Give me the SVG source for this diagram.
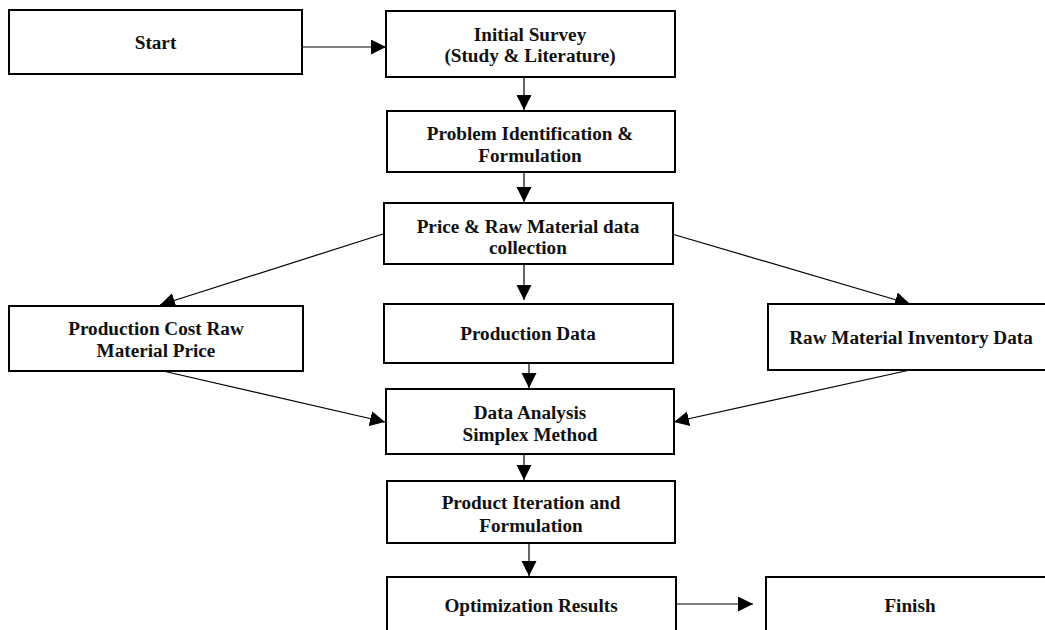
<svg xmlns="http://www.w3.org/2000/svg" width="1045" height="630" viewBox="0 0 1045 630">
<style>
.box{fill:#fff;stroke:#000;stroke-width:2}
.t{font-family:"Liberation Serif","Times New Roman",serif;font-weight:bold;font-size:19.2px;fill:#111;text-anchor:middle}
.c{stroke:#000;stroke-width:1.2;fill:none;marker-end:url(#ah)}
</style>
<defs>
<marker id="ah" markerUnits="userSpaceOnUse" markerWidth="16" markerHeight="16" refX="15" refY="7.5" orient="auto">
<path d="M0,0 L15,7.5 L0,15 z" fill="#000"/>
</marker>
</defs>
<rect width="1045" height="630" fill="#fff"/>
<g id="connectors">
<line class="c" x1="302" y1="47" x2="386" y2="47"/>
<line class="c" x1="524" y1="77" x2="524" y2="110"/>
<line class="c" x1="524" y1="172" x2="524" y2="202"/>
<line class="c" x1="383" y1="234" x2="160" y2="305"/>
<line class="c" x1="672" y1="234" x2="910" y2="304"/>
<line class="c" x1="524" y1="264" x2="524" y2="300"/>
<line class="c" x1="163" y1="371" x2="385" y2="422"/>
<line class="c" x1="910" y1="370" x2="674" y2="422"/>
<line class="c" x1="529" y1="363" x2="529" y2="388"/>
<line class="c" x1="524" y1="454" x2="524" y2="480"/>
<line class="c" x1="529" y1="543" x2="529" y2="576"/>
<line class="c" x1="676" y1="604" x2="753" y2="604"/>
</g>
<g id="start">
<rect class="box" x="9" y="10" width="293" height="64"/>
<text class="t" x="155.5" y="49">Start</text>
</g>
<g id="survey">
<rect class="box" x="386" y="11" width="289" height="66"/>
<text class="t" x="530" y="41">Initial Survey</text>
<text class="t" x="530" y="62">(Study &amp; Literature)</text>
</g>
<g id="problem">
<rect class="box" x="387" y="111" width="288" height="61"/>
<text class="t" x="530" y="140">Problem Identification &amp;</text>
<text class="t" x="530" y="161.5">Formulation</text>
</g>
<g id="price">
<rect class="box" x="384" y="203" width="289" height="61"/>
<text class="t" x="528" y="232.5">Price &amp; Raw Material data</text>
<text class="t" x="528" y="254">collection</text>
</g>
<g id="prodcost">
<rect class="box" x="9" y="306" width="294" height="65"/>
<text class="t" x="156" y="335">Production Cost Raw</text>
<text class="t" x="156" y="357">Material Price</text>
</g>
<g id="proddata">
<rect class="box" x="384" y="304" width="289" height="59"/>
<text class="t" x="528" y="340">Production Data</text>
</g>
<g id="inventory">
<rect class="box" x="768" y="304" width="290" height="66"/>
<text class="t" x="911" y="344">Raw Material Inventory Data</text>
</g>
<g id="analysis">
<rect class="box" x="386" y="389" width="288" height="65"/>
<text class="t" x="530" y="419">Data Analysis</text>
<text class="t" x="530" y="441">Simplex Method</text>
</g>
<g id="iteration">
<rect class="box" x="387" y="481" width="288" height="62"/>
<text class="t" x="531" y="509">Product Iteration and</text>
<text class="t" x="531" y="532">Formulation</text>
</g>
<g id="optimization">
<rect class="box" x="387" y="577" width="289" height="70"/>
<text class="t" x="531" y="612">Optimization Results</text>
</g>
<g id="finish">
<rect class="box" x="766" y="577" width="290" height="70"/>
<text class="t" x="910" y="612">Finish</text>
</g>
</svg>
